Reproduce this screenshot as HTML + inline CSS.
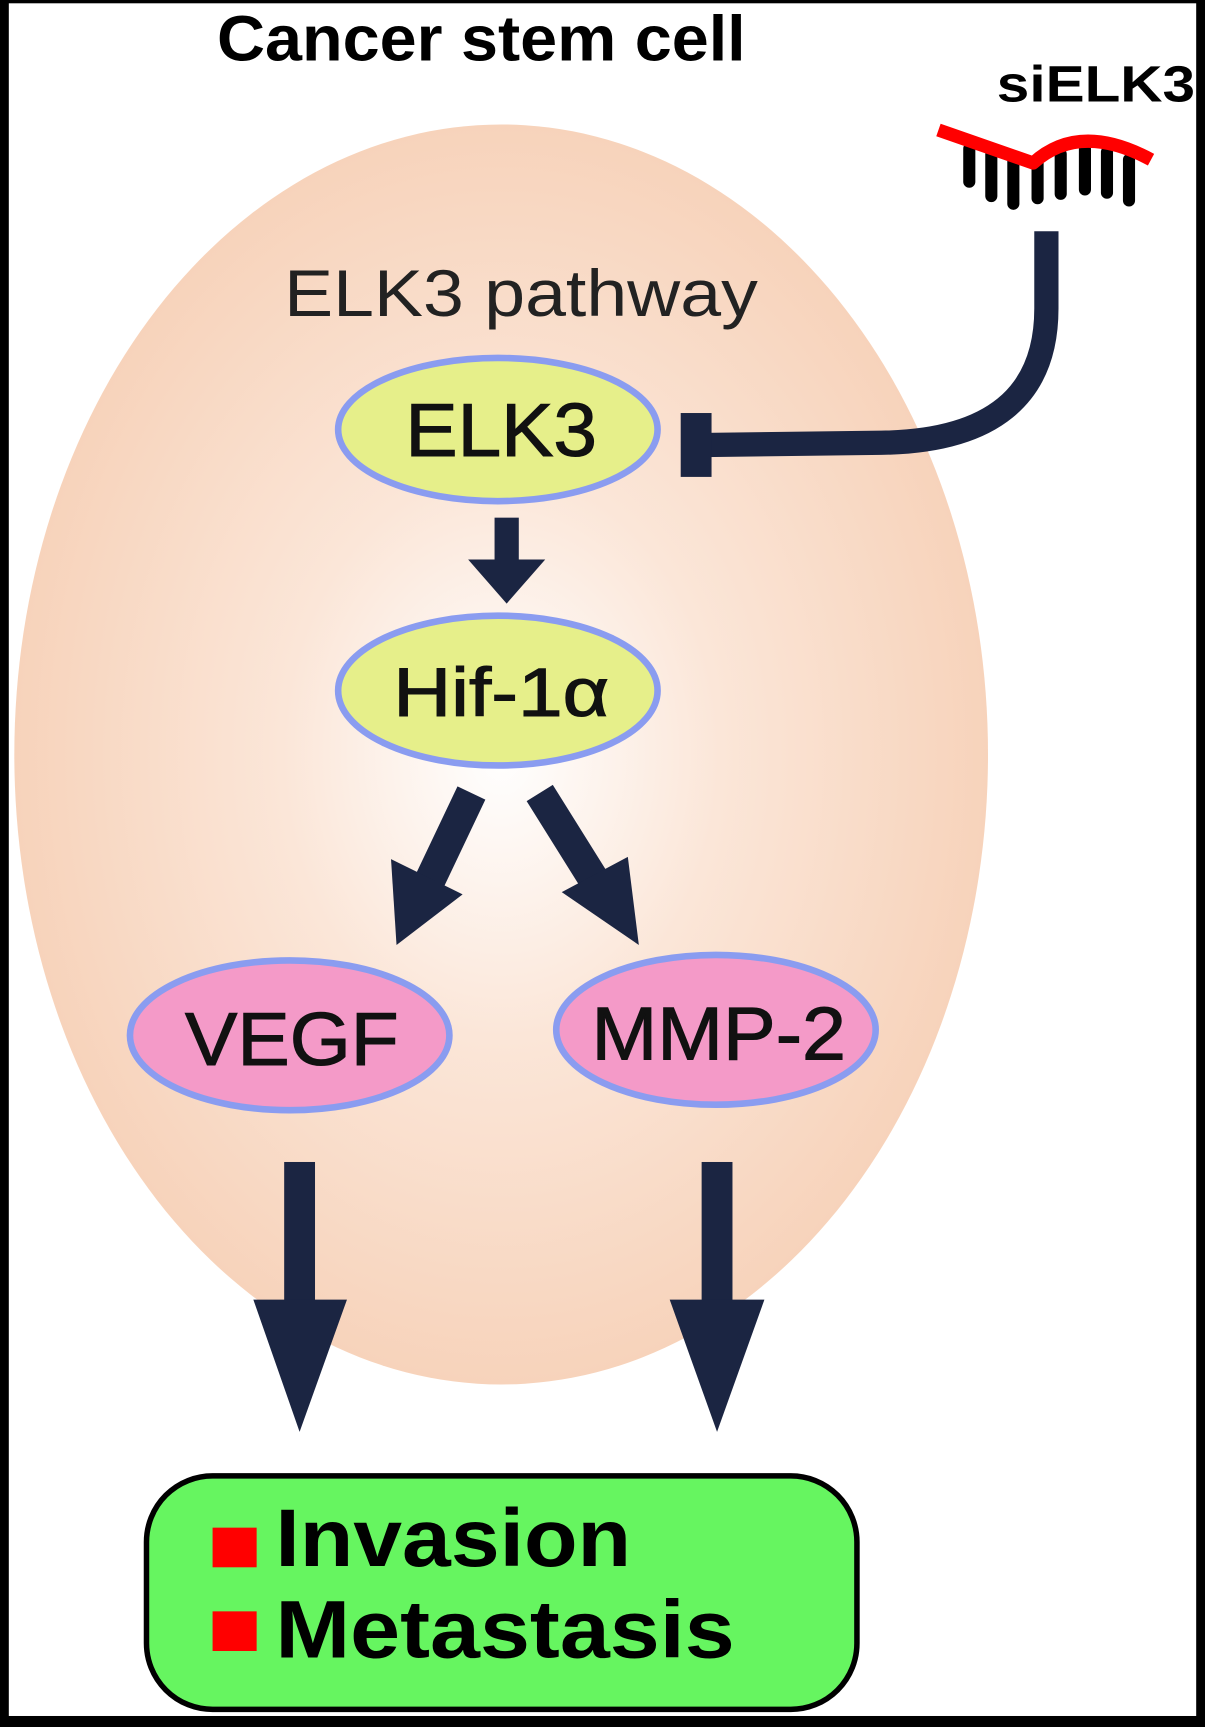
<!DOCTYPE html>
<html><head><meta charset="utf-8"><style>
html,body{margin:0;padding:0;background:#000;}
svg{display:block;}
</style></head><body>
<svg width="1205" height="1727" viewBox="0 0 1094 1568" preserveAspectRatio="none" xmlns="http://www.w3.org/2000/svg">
<defs>
<radialGradient id="cell" cx="0.5" cy="0.5" r="0.5">
<stop offset="0" stop-color="#ffffff"/>
<stop offset="0.45" stop-color="#fbe6d8"/>
<stop offset="1" stop-color="#f7d3bb"/>
</radialGradient>
</defs>
<rect x="0" y="0" width="1094" height="1568" fill="#000"/>
<rect x="8" y="3" width="1078" height="1555" fill="#fff"/>
<text x="197" y="55" textLength="480" lengthAdjust="spacingAndGlyphs" font-family="Liberation Sans, sans-serif" font-weight="bold" font-size="58" fill="#000">Cancer stem cell</text>
<ellipse cx="455" cy="685" rx="442" ry="572" fill="url(#cell)"/>
<text x="905" y="92" textLength="180" lengthAdjust="spacingAndGlyphs" font-family="Liberation Sans, sans-serif" font-weight="bold" font-size="46" fill="#000">siELK3</text>
<g stroke="#000" stroke-width="11" stroke-linecap="round">
<line x1="880" y1="135" x2="880" y2="165"/>
<line x1="900" y1="140" x2="900" y2="178"/>
<line x1="920" y1="145" x2="920" y2="185"/>
<line x1="942" y1="148" x2="942" y2="180"/>
<line x1="963" y1="140" x2="963" y2="176"/>
<line x1="985" y1="135" x2="985" y2="172"/>
<line x1="1005" y1="138" x2="1005" y2="175"/>
<line x1="1025" y1="145" x2="1025" y2="182"/>
</g>
<path d="M852,118 L938,148 Q980,110 1045,145" fill="none" stroke="#f00" stroke-width="12" stroke-linejoin="round"/>
<text x="258" y="287" textLength="430" lengthAdjust="spacingAndGlyphs" font-family="Liberation Sans, sans-serif" font-size="60" fill="#222">ELK3 pathway</text>
<path d="M950,210 L950,280 Q950,400 800,402 L640,404" fill="none" stroke="#1b2542" stroke-width="22"/>
<rect x="618" y="375" width="28" height="58" fill="#1b2542"/>
<ellipse cx="452" cy="390" rx="145" ry="65" fill="#e6ef8a" stroke="#8a9cf0" stroke-width="6"/>
<text x="368" y="414" textLength="174" lengthAdjust="spacingAndGlyphs" font-family="Liberation Sans, sans-serif" font-size="68" stroke="#111" stroke-width="1" fill="#111">ELK3</text>
<rect x="449" y="470" width="22" height="42" fill="#1b2542"/>
<polygon points="425,508 495,508 460,548" fill="#1b2542"/>
<ellipse cx="452" cy="627" rx="145" ry="68" fill="#e6ef8a" stroke="#8a9cf0" stroke-width="6"/>
<text x="357" y="650" textLength="196" lengthAdjust="spacingAndGlyphs" font-family="Liberation Sans, sans-serif" font-size="62" stroke="#111" stroke-width="1" fill="#111">Hif-1α</text>
<line x1="428" y1="720" x2="390" y2="800" stroke="#1b2542" stroke-width="28"/>
<polygon points="355,780 420,812 360,858" fill="#1b2542"/>
<line x1="490" y1="720" x2="540" y2="800" stroke="#1b2542" stroke-width="28"/>
<polygon points="510,810 570,778 580,858" fill="#1b2542"/>
<ellipse cx="263" cy="940" rx="145" ry="68" fill="#f49ac8" stroke="#8a9cf0" stroke-width="6"/>
<text x="168" y="967" textLength="194" lengthAdjust="spacingAndGlyphs" font-family="Liberation Sans, sans-serif" font-size="68" stroke="#111" stroke-width="1" fill="#111">VEGF</text>
<ellipse cx="650" cy="935" rx="145" ry="68" fill="#f49ac8" stroke="#8a9cf0" stroke-width="6"/>
<text x="537" y="962" textLength="231" lengthAdjust="spacingAndGlyphs" font-family="Liberation Sans, sans-serif" font-size="68" stroke="#111" stroke-width="1" fill="#111">MMP-2</text>
<rect x="258" y="1055" width="28" height="130" fill="#1b2542"/>
<polygon points="230,1180 315,1180 272,1300" fill="#1b2542"/>
<rect x="637" y="1055" width="28" height="130" fill="#1b2542"/>
<polygon points="608,1180 694,1180 651,1300" fill="#1b2542"/>
<rect x="133" y="1340" width="645" height="212" rx="60" fill="#66f560" stroke="#000" stroke-width="5"/>
<rect x="193" y="1387" width="40" height="36" fill="#f00"/>
<rect x="193" y="1463" width="40" height="36" fill="#f00"/>
<text x="250" y="1422" textLength="323" lengthAdjust="spacingAndGlyphs" font-family="Liberation Sans, sans-serif" font-weight="bold" font-size="74" fill="#000">Invasion</text>
<text x="250" y="1505" textLength="417" lengthAdjust="spacingAndGlyphs" font-family="Liberation Sans, sans-serif" font-weight="bold" font-size="74" fill="#000">Metastasis</text>
</svg>
</body></html>
